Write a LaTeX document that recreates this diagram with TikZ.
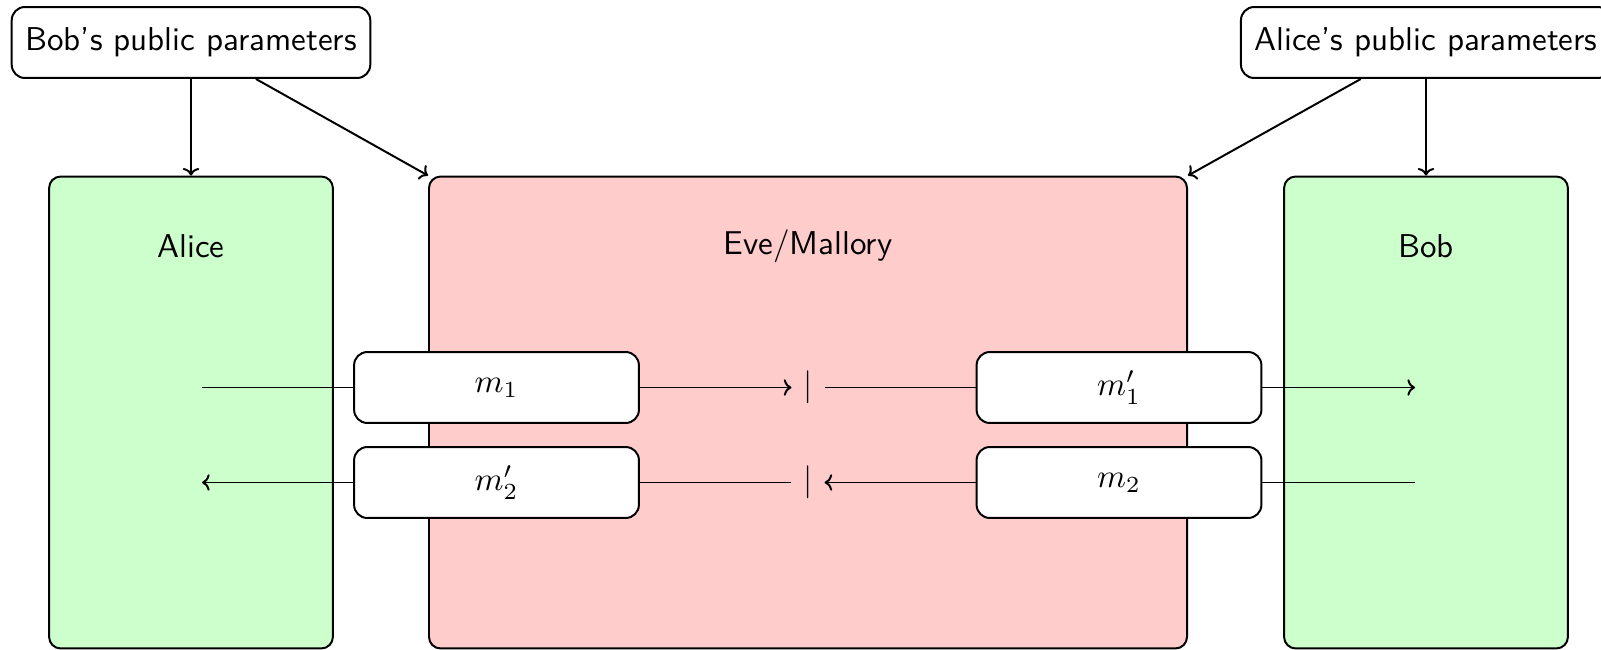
\documentclass[tikz,border=0pt]{standalone}
\usetikzlibrary{arrows.meta}
\begin{document}
\begin{tikzpicture}[
  x=0.30303pt, y=-0.30303pt,
  font=\sffamily,
  line width=0.6pt,
  >={Computer Modern Rightarrow[length=2.3pt, width=5pt]},
  party/.style={draw, rounded corners=3.5pt, fill=green!20, inner sep=0pt,
    minimum width=86pt, minimum height=143pt},
  adversary/.style={draw, rounded corners=3.5pt, fill=red!20, inner sep=0pt,
    minimum width=229.7pt, minimum height=143pt},
  params/.style={draw, rounded corners=4pt, fill=white, inner xsep=4.1pt,
    minimum height=21.5pt},
  msg/.style={draw, rounded corners=4pt, fill=white, inner sep=0pt,
    minimum width=86.3pt, minimum height=21.5pt},
  cut/.style={inner sep=0.3333em},
]
\useasboundingbox (0,0) rectangle (1601,650);

% parties and the adversary in between
\node[party] (alice) at (191,412.5) {};
\node[adversary] (eve) at (808,412.5) {};
\node[party] (bob) at (1426,412.5) {};

\node (alicelabel) at (191,246) {Alice};
\node (evelabel) at (808,246) {Eve/Mallory};
\node (boblabel) at (1426,246) {Bob};

% public parameters
\node[params] (bobpp) at (191,42.5) {Bob's public parameters};
\node[params] (alicepp) at (1426,42.5) {Alice's public parameters};

\draw[->] (alice.north |- bobpp.south) -- (alice.north);
\draw[->] (bobpp) -- (eve.north west);
\draw[->] (bob.north |- alicepp.south) -- (bob.north);
\draw[->] (alicepp) -- (eve.north east);

% messages
\node[msg] (m1) at (496.5,387.5) {$m_1$};
\node[msg] (m2p) at (496.5,482.5) {$m_2'$};
\node[msg] (m1p) at (1119,387.5) {$m_1'$};
\node[msg] (m2) at (1119,482.5) {$m_2$};

\coordinate (aout) at (202,387.5);
\coordinate (ain) at (202,482.5);
\coordinate (bin) at (1415,387.5);
\coordinate (bout) at (1415,482.5);

\node[cut] (cut1) at (808,387.5) {$|$};
\node[cut] (cut2) at (808,482.5) {$|$};

% Alice to Bob
\draw (aout) -- (m1);
\draw[->] (m1) -- (cut1);
\draw (cut1) -- (m1p);
\draw[->] (m1p) -- (bin);

% Bob to Alice
\draw (bout) -- (m2);
\draw[->] (m2) -- (cut2);
\draw (cut2) -- (m2p);
\draw[->] (m2p) -- (ain);
\end{tikzpicture}
\end{document}
